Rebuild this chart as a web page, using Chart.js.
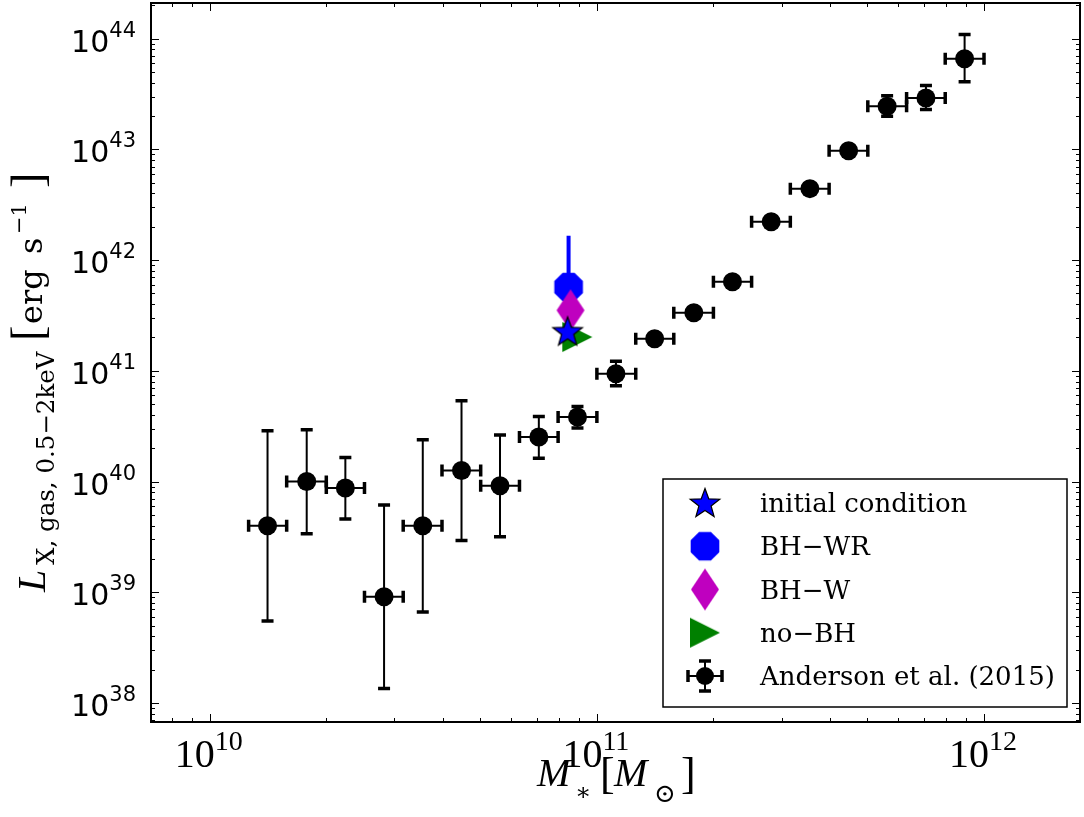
<!DOCTYPE html>
<html>
<head>
<meta charset="utf-8">
<script src="https://cdn.jsdelivr.net/npm/chart.js@4.4.0/dist/chart.umd.min.js"></script>
<style>
  html, body { margin: 0; padding: 0; background: #fff; }
  #wrap { width: 1084px; height: 817px; position: relative; }
</style>
</head>
<body>
<div id="wrap"><canvas id="chart"></canvas></div>
<script>
// Axis limits (both log)
const xMin = 7.05e9, xMax = 1.77e12;
const yMin = 6.73e37, yMax = 2.1e44;
const xMajorExp = [10, 11, 12];
const yMajorExp = [38, 39, 40, 41, 42, 43, 44];

// Anderson et al. (2015) stacked galaxies
const andersonMass = [1.41e10, 1.78e10, 2.24e10, 2.82e10, 3.55e10, 4.47e10, 5.62e10, 7.08e10, 8.91e10, 1.12e11,
                      1.41e11, 1.78e11, 2.24e11, 2.82e11, 3.55e11, 4.47e11, 5.62e11, 7.08e11, 8.91e11];
const massLo = [1.26e10, 1.58e10, 2.00e10, 2.51e10, 3.16e10, 3.98e10, 5.01e10, 6.31e10, 7.94e10, 1.00e11,
                1.26e11, 1.58e11, 2.00e11, 2.51e11, 3.16e11, 3.98e11, 5.01e11, 6.31e11, 7.94e11];
const massHi = [1.58e10, 2.00e10, 2.51e10, 3.16e10, 3.98e10, 5.01e10, 6.31e10, 7.94e10, 1.00e11, 1.26e11,
                1.58e11, 2.00e11, 2.51e11, 3.16e11, 3.98e11, 5.01e11, 6.31e11, 7.94e11, 1.00e12];
const andersonLx = [3.99e39, 1.00e40, 8.73e39, 9.10e38, 3.99e39, 1.26e40, 9.16e39, 2.52e40, 3.83e40, 9.42e40,
                    1.95e41, 3.35e41, 6.38e41, 2.22e42, 4.42e42, 9.73e42, 2.45e43, 2.91e43, 6.59e43];
const lxLo = [5.50e38, 3.37e39, 4.58e39, 1.35e38, 6.62e38, 2.94e39, 3.17e39, 1.62e40, 3.04e40, 7.33e40,
              1.78e41, 3.05e41, 5.82e41, 2.03e42, 4.03e42, 8.87e42, 1.99e43, 2.29e43, 4.09e43];
const lxHi = [2.88e40, 2.94e40, 1.65e40, 6.14e39, 2.39e40, 5.37e40, 2.63e40, 3.87e40, 4.76e40, 1.22e41,
              2.14e41, 3.67e41, 7.00e41, 2.44e42, 4.84e42, 1.07e43, 3.05e43, 3.78e43, 1.09e44];

// Simulations
const simLabels = ['initial condition', 'BH\u2212WR', 'BH\u2212W', 'no\u2212BH'];
const simMass = [8.40e10, 8.45e10, 8.55e10, 8.90e10];
const simLx = [2.27e41, 5.71e41, 3.52e41, 2.02e41];
const wrErrLo = 4.5e41;
const wrErrHi = 1.66e42;

// Marker shapes
function makeMarker(w, h, draw) {
    const c = document.createElement('canvas');
    c.width = w;
    c.height = h;
    draw(c.getContext('2d'), w, h);
    return c;
}

const starMarker = makeMarker(34, 34, (g, w, h) => {
    g.beginPath();
    for (let k = 0; k < 10; k++) {
        const a = -Math.PI / 2 + k * Math.PI / 5;
        const r = k % 2 === 0 ? 15.5 : 6.4;
        g.lineTo(w / 2 + r * Math.cos(a), h / 2 + 1 + r * Math.sin(a));
    }
    g.closePath();
    g.fillStyle = '#0000ff';
    g.fill();
    g.lineWidth = 1.2;
    g.strokeStyle = '#000';
    g.stroke();
});

const octMarker = makeMarker(32, 32, (g, w, h) => {
    g.beginPath();
    for (let k = 0; k < 8; k++) {
        const a = Math.PI / 8 + k * Math.PI / 4;
        g.lineTo(w / 2 + 15.5 * Math.cos(a), h / 2 + 15.5 * Math.sin(a));
    }
    g.closePath();
    g.fillStyle = '#0000ff';
    g.fill();
});

const diamondMarker = makeMarker(30, 44, (g, w, h) => {
    g.beginPath();
    g.moveTo(w / 2, 1);
    g.lineTo(w - 1, h / 2);
    g.lineTo(w / 2, h - 1);
    g.lineTo(1, h / 2);
    g.closePath();
    g.fillStyle = '#bf00bf';
    g.fill();
});

const triMarker = makeMarker(32, 32, (g, w, h) => {
    g.beginPath();
    g.moveTo(w - 1, h / 2);
    g.lineTo(1, 1);
    g.lineTo(1, h - 1);
    g.closePath();
    g.fillStyle = '#008000';
    g.fill();
});

function logTicks(min, max) {
    const out = [];
    for (let e = Math.floor(Math.log10(min)); e <= Math.ceil(Math.log10(max)); e++) {
        for (let k = 1; k <= 9; k++) {
            const v = k * Math.pow(10, e);
            if (v >= min && v <= max) out.push({ v, major: k === 1 });
        }
    }
    return out;
}

const serif = "'DejaVu Serif', serif";
const tickSerif = "'Liberation Serif', serif";

const decorations = {
    id: 'decorations',
    beforeDatasetsDraw(chart) {
        const { ctx, scales: { x, y } } = chart;
        ctx.save();
        ctx.strokeStyle = '#000';
        andersonMass.forEach((m, i) => {
            const px = x.getPixelForValue(m);
            const py = y.getPixelForValue(andersonLx[i]);
            const x0 = x.getPixelForValue(massLo[i]);
            const x1 = x.getPixelForValue(massHi[i]);
            const y0 = y.getPixelForValue(lxLo[i]);
            const y1 = y.getPixelForValue(lxHi[i]);
            ctx.lineWidth = 2;
            ctx.beginPath();
            ctx.moveTo(x0, py); ctx.lineTo(x1, py);
            ctx.moveTo(px, y0); ctx.lineTo(px, y1);
            ctx.stroke();
            ctx.lineWidth = 3.5;
            ctx.beginPath();
            ctx.moveTo(x0, py - 6); ctx.lineTo(x0, py + 6);
            ctx.moveTo(x1, py - 6); ctx.lineTo(x1, py + 6);
            ctx.moveTo(px - 6, y0); ctx.lineTo(px + 6, y0);
            ctx.moveTo(px - 6, y1); ctx.lineTo(px + 6, y1);
            ctx.stroke();
        });
        // BH-WR error bar
        const wx = x.getPixelForValue(simMass[1]);
        ctx.strokeStyle = '#0000ff';
        ctx.lineWidth = 4;
        ctx.beginPath();
        ctx.moveTo(wx, y.getPixelForValue(wrErrLo));
        ctx.lineTo(wx, y.getPixelForValue(wrErrHi));
        ctx.stroke();
        ctx.restore();
    },
    afterDatasetsDraw(chart) {
        const { ctx, chartArea: a, scales: { x, y } } = chart;
        ctx.save();
        ctx.strokeStyle = '#000';
        ctx.fillStyle = '#000';

        // inward ticks on all sides
        ctx.lineWidth = 1;
        ctx.beginPath();
        logTicks(xMin, xMax).forEach(t => {
            const px = Math.round(x.getPixelForValue(t.v)) + 0.5;
            const len = t.major ? 8 : 4;
            ctx.moveTo(px, a.bottom); ctx.lineTo(px, a.bottom - len);
            ctx.moveTo(px, a.top); ctx.lineTo(px, a.top + len);
        });
        logTicks(yMin, yMax).forEach(t => {
            const py = Math.round(y.getPixelForValue(t.v)) + 0.5;
            const len = t.major ? 8 : 4;
            ctx.moveTo(a.left, py); ctx.lineTo(a.left + len, py);
            ctx.moveTo(a.right, py); ctx.lineTo(a.right - len, py);
        });
        ctx.stroke();

        // frame
        ctx.lineWidth = 2;
        ctx.strokeRect(a.left, a.top, a.right - a.left, a.bottom - a.top);

        // y tick labels
        ctx.textBaseline = 'alphabetic';
        yMajorExp.forEach(e => {
            const py = y.getPixelForValue(Math.pow(10, e));
            ctx.font = "21px 'DejaVu Sans'";
            const ew = ctx.measureText(String(e)).width;
            ctx.textAlign = 'left';
            ctx.fillText(String(e), 136 - ew, py - 2);
            ctx.font = "30px 'DejaVu Sans'";
            ctx.textAlign = 'right';
            ctx.fillText('10', 136 - ew, py + 13);
        });

        // x tick labels
        xMajorExp.forEach(e => {
            const px = x.getPixelForValue(Math.pow(10, e));
            ctx.font = '40px ' + tickSerif;
            const bw = ctx.measureText('10').width;
            ctx.font = '28px ' + tickSerif;
            const ew = ctx.measureText(String(e)).width;
            const left = px - (bw + ew) / 2 - 1;
            ctx.textAlign = 'left';
            ctx.font = '40px ' + tickSerif;
            ctx.fillText('10', left, 767);
            ctx.font = '28px ' + tickSerif;
            ctx.fillText(String(e), left + bw, 750);
        });

        // x axis title
        ctx.textAlign = 'left';
        ctx.font = "italic 40px 'Liberation Serif'";
        ctx.fillText('M', 537, 786);
        ctx.font = '24px ' + serif;
        ctx.fillText('\u2217', 575, 800);
        ctx.font = '44px ' + tickSerif;
        ctx.fillText('[', 600, 788);
        ctx.font = "italic 40px 'Liberation Serif'";
        ctx.fillText('M', 614, 786);
        ctx.font = '26px ' + serif;
        ctx.fillText('\u2299', 654, 802);
        ctx.font = '44px ' + tickSerif;
        ctx.fillText(']', 681, 788);

        // y axis title (rotated)
        ctx.save();
        ctx.translate(45, 592);
        ctx.rotate(-Math.PI / 2);
        ctx.font = "italic 40px 'Liberation Serif'";
        ctx.fillText('L', 0, 0);
        ctx.save();
        ctx.translate(27, 9);
        ctx.scale(1.02, 1);
        ctx.font = '24px ' + serif;
        ctx.fillText('X, gas, 0.5\u22122keV', 0, 0);
        ctx.restore();
        ctx.font = '46px ' + tickSerif;
        ctx.fillText('[', 251, -2);
        ctx.font = '32px ' + serif;
        ctx.fillText('erg', 268, -3);
        ctx.fillText('s', 338, -3);
        ctx.font = '21px ' + serif;
        ctx.fillText('\u22121', 358, -19);
        ctx.font = '46px ' + tickSerif;
        ctx.fillText(']', 404, -2);
        ctx.restore();

        // legend
        const lw = 404, lh = 228;
        const lx = a.right - 13 - lw, ly = a.bottom - 15 - lh;
        ctx.fillStyle = '#fff';
        ctx.fillRect(lx, ly, lw, lh);
        ctx.lineWidth = 1.5;
        ctx.strokeStyle = '#000';
        ctx.strokeRect(lx, ly, lw, lh);
        ctx.fillStyle = '#000';
        ctx.font = '26px ' + serif;
        chart.data.datasets.forEach((ds, i) => {
            const my = ly + 24 + i * 43.25;
            const mx = lx + 42;
            if (typeof ds.pointStyle === 'object') {
                const img = ds.pointStyle;
                ctx.drawImage(img, mx - img.width / 2, my - img.height / 2);
            } else {
                ctx.lineWidth = 2;
                ctx.beginPath();
                ctx.moveTo(mx - 17, my); ctx.lineTo(mx + 17, my);
                ctx.moveTo(mx, my - 15); ctx.lineTo(mx, my + 15);
                ctx.stroke();
                ctx.lineWidth = 3.5;
                ctx.beginPath();
                ctx.moveTo(mx - 17, my - 6); ctx.lineTo(mx - 17, my + 6);
                ctx.moveTo(mx + 17, my - 6); ctx.lineTo(mx + 17, my + 6);
                ctx.moveTo(mx - 6, my - 15); ctx.lineTo(mx + 6, my - 15);
                ctx.moveTo(mx - 6, my + 15); ctx.lineTo(mx + 6, my + 15);
                ctx.stroke();
                ctx.beginPath();
                ctx.arc(mx, my, 9, 0, Math.PI * 2);
                ctx.fill();
            }
            ctx.fillText(ds.label, lx + 97, my + 9);
        });
        ctx.restore();
    }
};

const ctx = document.getElementById('chart').getContext('2d');

new Chart(ctx, {
    type: 'scatter',
    data: {
        datasets: [
            {
                label: simLabels[0],
                data: [{ x: simMass[0], y: simLx[0] }],
                pointStyle: starMarker,
                pointRadius: 12,
                order: 0
            },
            {
                label: simLabels[1],
                data: [{ x: simMass[1], y: simLx[1] }],
                pointStyle: octMarker,
                pointRadius: 12,
                order: 3
            },
            {
                label: simLabels[2],
                data: [{ x: simMass[2], y: simLx[2] }],
                pointStyle: diamondMarker,
                pointRadius: 12,
                order: 2
            },
            {
                label: simLabels[3],
                data: [{ x: simMass[3], y: simLx[3] }],
                pointStyle: triMarker,
                pointRadius: 12,
                order: 1
            },
            {
                label: 'Anderson et al. (2015)',
                data: andersonMass.map((m, i) => ({ x: m, y: andersonLx[i] })),
                pointStyle: 'circle',
                pointRadius: 9.5,
                backgroundColor: '#000',
                borderWidth: 0,
                order: 5
            }
        ]
    },
    options: {
        responsive: true,
        maintainAspectRatio: false,
        animation: false,
        devicePixelRatio: 1,
        layout: { autoPadding: false, padding: { left: 151, top: 3, right: 4, bottom: 95 } },
        plugins: {
            legend: { display: false },
            tooltip: { enabled: false }
        },
        scales: {
            x: { type: 'logarithmic', min: xMin, max: xMax, display: false },
            y: { type: 'logarithmic', min: yMin, max: yMax, display: false }
        }
    },
    plugins: [decorations]
});
</script>
</body>
</html>
